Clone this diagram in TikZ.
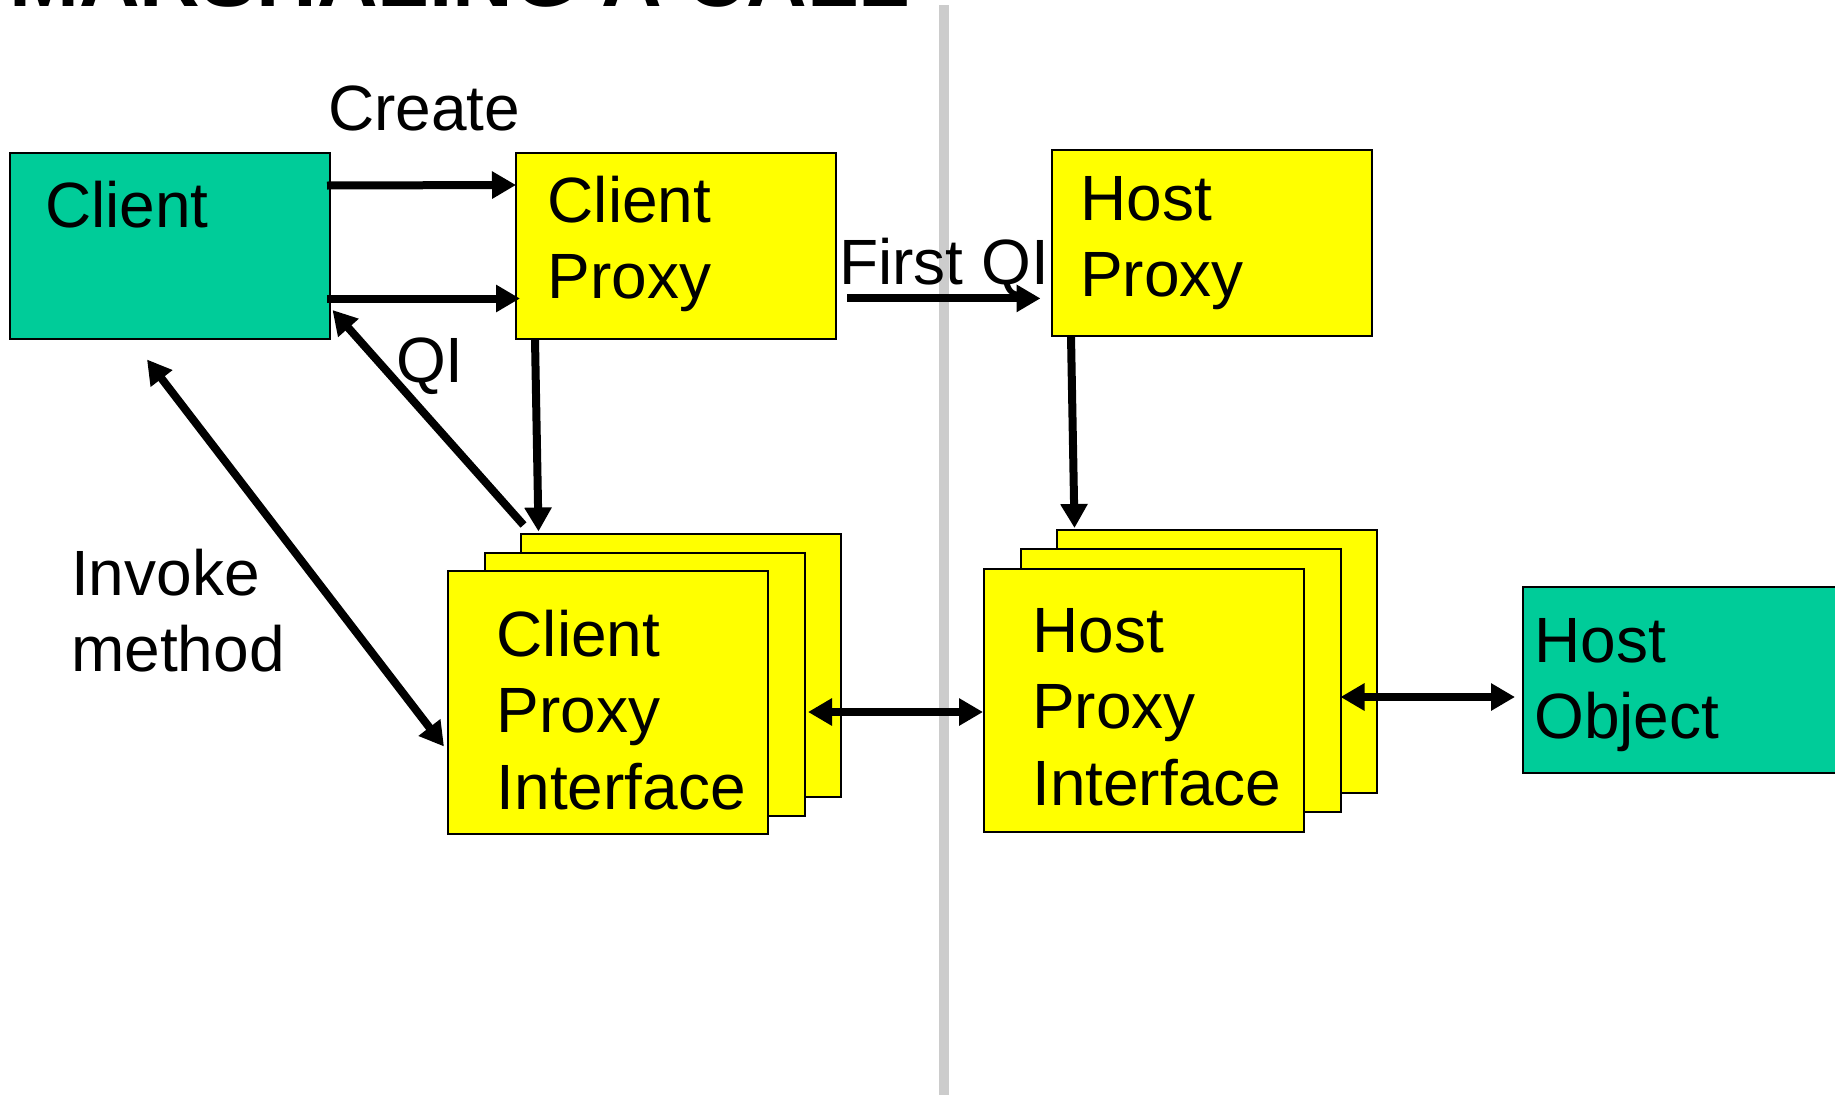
\documentclass[tikz,border=0pt]{standalone}
\usepackage{fontspec}
\setmainfont{Liberation Sans}
\usetikzlibrary{arrows.meta}
\definecolor{tealbox}{HTML}{00CC99}
\definecolor{yelbox}{HTML}{FFFF00}
\definecolor{sepgray}{HTML}{CCCCCC}
\begin{document}
\begin{tikzpicture}[x=1pt,y=-1pt,
  box/.style={draw=black, line width=2pt, rectangle, inner sep=0pt, outer sep=0pt, anchor=north west, minimum width=320pt, minimum height=186pt},
  ibox/.style={box, fill=yelbox, minimum width=320pt, minimum height=263pt},
  txt/.style={anchor=base west, inner sep=0pt, align=left, font=\fontsize{64}{76.5}\selectfont},
  arr/.style={line width=8pt, -{Triangle[length=24pt,width=26pt]}},
  darr/.style={line width=8pt, {Triangle[length=24pt,width=26pt]}-{Triangle[length=24pt,width=26pt]}},
]
\useasboundingbox (0,0) rectangle (1835,1095);
\begin{scope}
\clip (0,0) rectangle (1835,1095);
\node[anchor=base west, inner sep=0pt, font=\bfseries\fontsize{84}{90}\selectfont] (title) at (9,6) {MARSHALING A CALL};
\fill[sepgray] (939,5) rectangle (949,1095);
% boxes
\node[box, fill=tealbox, minimum height=186.5pt] (client) at (10,152.5) {};
\node[box, fill=yelbox] (cproxy) at (516,153) {};
\node[box, fill=yelbox] (hproxy) at (1052,150) {};
\node[box, fill=tealbox, minimum width=400pt] (hobj) at (1522.5,587) {};
\node[ibox] (cpi3) at (521,534) {};
\node[ibox] (cpi2) at (484.5,552.5) {};
\node[ibox] (cpi1) at (448,571) {};
\node[ibox] (hpi3) at (1057,530) {};
\node[ibox] (hpi2) at (1020.5,549) {};
\node[ibox] (hpi1) at (984,568.5) {};
% texts (base = baseline of last line)
\node[txt] (tclient) at (45,227.5) {Client};
\node[txt] (tcproxy) at (547.5,298.5) {Client\\Proxy};
\node[txt] (thproxy) at (1080,296.5) {Host\\Proxy};
\node[txt] (tcpi) at (496.5,809) {Client\\Proxy\\Interface};
\node[txt] (thpi) at (1032,805) {Host\\Proxy\\Interface};
\node[txt] (thobj) at (1534,738.5) {Host\\Object};
\node[txt] (lcreate) at (328,130) {Create};
\node[txt] (lqi) at (396,382) {QI};
\node[txt] (lfirst) at (839,284) {First QI};
\node[txt] (linvoke) at (71,671.5) {Invoke\\method};
% connectors
\draw[arr] ([shift={(-3,33)}]client.north east) -- ([shift={(0,32)}]cproxy.north west);
\draw[arr] ([shift={(-3,146)}]client.north east) -- ([shift={(4,145.5)}]cproxy.north west);
\draw[arr] ([shift={(2.5,-9)}]cpi3.north west) -- ([shift={(2.5,-29)}]client.south east);
\draw[arr] ([shift={(19,0)}]cproxy.south west) -- ([shift={(17.5,-2.5)}]cpi3.north west);
\draw[darr] ([shift={(137,20.5)}]client.south west) -- ([shift={(-4,175.5)}]cpi1.north west);
\draw[arr] ([shift={(11,145.4)}]cproxy.north east) -- ([shift={(-11.5,148.4)}]hproxy.north west);
\draw[arr] ([shift={(19,0)}]hproxy.south west) -- ([shift={(17.5,-2)}]hpi3.north west);
\draw[darr] ([shift={(3.5,159.5)}]cpi2.north east) -- ([shift={(-1,143.5)}]hpi1.north west);
\draw[darr] ([shift={(0,148)}]hpi2.north east) -- ([shift={(-7.5,110)}]hobj.north west);
\end{scope}
\end{tikzpicture}
\end{document}
